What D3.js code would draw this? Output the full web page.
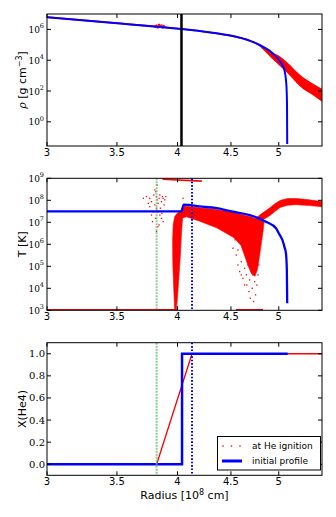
<!DOCTYPE html>
<html>
<head>
<meta charset="utf-8">
<script src="https://cdn.jsdelivr.net/npm/d3@7"></script>
<style>
  body { margin: 0; background: #fff; }
  svg { display: block; }
  text { font-family: "DejaVu Sans", sans-serif; fill: #000; }
</style>
</head>
<body>
<svg id="chart" width="336" height="517"></svg>
<script>
// ---- data (radius in 1e8 cm, log10 values for rho and T) ----

// tick labels
var radiusTicks = [3, 3.5, 4, 4.5, 5];
var rhoTickExp = [0, 2, 4, 6];
var tempTickExp = [3, 4, 5, 6, 7, 8, 9];
var xHeTicks = [0.0, 0.2, 0.4, 0.6, 0.8, 1.0];

// marker radii
var rCoreEdge = 4.035;   // black line, top panel
var rIgnition = 3.82;    // green line
var rShellBase = 4.13;   // blue dotted line

// initial profile (blue)
var rhoInit = [[3.0, 6.79], [3.5, 6.4], [4.035, 6.03], [4.2, 5.9], [4.36, 5.75], [4.52, 5.57],
  [4.69, 5.27], [4.86, 4.77], [4.92, 4.52], [4.97, 4.23], [5.01, 3.95], [5.04, 3.69],
  [5.065, 3.3], [5.08, 2.71], [5.088, 2.0], [5.092, 1.0], [5.094, -1.44]];
var tempInit = [[3.0, 7.5], [4.035, 7.5], [4.055, 7.8], [4.2, 7.72], [4.36, 7.64], [4.52, 7.48],
  [4.69, 7.33], [4.86, 7.03], [4.97, 6.73], [5.0, 6.5], [5.04, 6.2], [5.065, 5.85],
  [5.08, 5.59], [5.09, 4.8], [5.094, 3.32]];
var xHeInit = [[3.0, 0], [4.04, 0], [4.04, 1], [5.1, 1]];

// at He ignition (red): bands and clouds [r, low, high] / outlines [r, logT]
var rhoIgn = [[3.0, 6.74, 6.86], [3.5, 6.35, 6.46], [4.035, 5.97, 6.08], [4.36, 5.69, 5.8],
  [4.52, 5.51, 5.62], [4.69, 5.2, 5.31], [4.78, 4.95, 5.07], [4.86, 4.5, 4.8],
  [4.93, 4.08, 4.52], [5.0, 3.69, 4.3], [5.09, 3.2, 3.88], [5.24, 2.3, 3.05],
  [5.4, 1.7, 2.45], [5.5, 1.3, 2.15]];
var rhoIgnBlob = [[3.81, 6.18], [3.82, 6.25], [3.83, 6.12], [3.84, 6.3], [3.85, 6.16],
  [3.86, 6.26], [3.87, 6.12], [3.88, 6.22], [3.845, 6.22], [3.865, 6.19]];

var tempWedge = [[3.975, 3.03], [3.968, 3.8], [3.962, 4.6], [3.958, 5.3], [3.957, 6.2],
  [3.962, 6.9], [3.975, 7.25], [3.995, 7.4], [4.025, 7.5], [4.045, 7.7], [4.06, 7.74],
  [4.2, 7.66], [4.36, 7.58], [4.52, 7.44], [4.69, 7.26], [4.8, 7.1], [4.84, 7.0],
  [4.83, 6.6], [4.81, 6.0], [4.79, 5.4], [4.77, 4.85], [4.745, 4.55], [4.71, 4.65],
  [4.68, 4.95], [4.64, 5.45], [4.6, 5.95], [4.53, 6.3], [4.36, 6.75], [4.2, 7.05],
  [4.08, 7.25], [4.045, 7.2], [4.035, 6.5], [4.025, 5.5], [4.012, 4.5], [4.0, 3.6], [3.99, 3.03]];
var tempBranch = [[4.78, 7.1], [4.83, 7.12], [4.9, 7.3], [4.96, 7.5], [5.02, 7.68], [5.1, 7.78],
  [5.2, 7.8], [5.35, 7.76], [5.5, 7.71], [5.5, 7.94], [5.35, 8.02], [5.2, 8.08], [5.1, 8.08],
  [5.02, 8.0], [4.96, 7.85], [4.9, 7.65], [4.85, 7.5], [4.8, 7.35], [4.76, 7.2]];
var tempTopStreak = [[3.87, 8.96], [4.22, 8.87]];
var tempFloorA = [[3.0, 3.03], [4.0, 3.03]];
var tempFloorB = [[4.55, 3.03], [4.83, 3.03]];
var tempScatter = [[3.71, 8.09], [3.735, 8.17], [3.763, 8.09], [3.777, 7.94], [3.796, 8.24],
  [3.805, 8.47], [3.813, 8.39], [3.819, 8.17], [3.824, 8.02], [3.833, 7.86], [3.841, 8.09],
  [3.847, 8.24], [3.861, 7.94], [3.869, 8.17], [3.875, 8.09], [3.883, 7.79], [3.819, 7.64],
  [3.833, 7.48], [3.847, 7.33], [3.861, 7.18], [3.875, 7.03], [3.841, 6.88], [3.819, 6.58],
  [3.805, 7.79], [3.79, 7.48], [3.81, 7.18], [3.852, 7.64], [3.889, 8.02], [3.763, 7.71],
  [3.785, 7.03], [3.83, 6.8], [3.864, 7.41], [3.75, 7.86], [3.898, 8.17], [3.777, 7.33],
  [3.824, 8.7], [4.049, 8.09],
  [4.52, 5.82], [4.553, 5.51], [4.57, 5.06], [4.587, 4.76], [4.604, 5.21], [4.62, 4.45],
  [4.637, 4.91], [4.655, 4.61], [4.661, 4.15], [4.672, 5.06], [4.682, 3.85], [4.689, 4.38],
  [4.696, 3.55], [4.706, 4.76], [4.716, 4.0], [4.723, 4.61], [4.73, 3.4], [4.741, 4.3],
  [4.751, 3.7], [4.758, 4.91], [4.765, 4.15], [4.776, 4.61], [4.786, 5.06], [4.637, 4.15],
  [4.604, 4.61], [4.487, 6.65], [4.54, 6.2], [4.46, 6.95], [4.57, 5.74]];
var xHeIgn = [[3.0, 0], [3.82, 0], [4.13, 1], [5.5, 1]];

// ---- layout ----
var width = 336, height = 517;
var left = 47, right = 322;
var panels = [
  { top: 14, bottom: 146 },
  { top: 178.3, bottom: 310.3 },
  { top: 342.7, bottom: 475.3 }
];
var red = "#ff0000", blue = "#0000ff";
var pow10 = function (e) { return Math.pow(10, e); };

var svg = d3.select("#chart").attr("width", width).attr("height", height);

var x = d3.scaleLog().domain([3, 5.5]).range([left, right]);
var yRho = d3.scaleLog().domain([pow10(-1.57), 1e7]).range([panels[0].bottom, panels[0].top]);
var yT = d3.scaleLog().domain([1e3, 1e9]).range([panels[1].bottom, panels[1].top]);
var yX = d3.scaleLinear().domain([-0.1, 1.1]).range([panels[2].bottom, panels[2].top]);

// clip paths
panels.forEach(function (p, i) {
  svg.append("clipPath").attr("id", "clip" + i)
    .append("rect").attr("x", left).attr("y", p.top)
    .attr("width", right - left).attr("height", p.bottom - p.top);
});

function plotArea(i) {
  return svg.append("g").attr("clip-path", "url(#clip" + i + ")");
}

function vline(g, r, p, stroke, w, dash, op) {
  g.append("line").attr("x1", x(r)).attr("x2", x(r))
    .attr("y1", p.top).attr("y2", p.bottom)
    .attr("stroke", stroke).attr("stroke-width", w)
    .attr("stroke-dasharray", dash).attr("opacity", op);
}

function dots(g, data, xf, yf, s) {
  g.selectAll(null).data(data).enter().append("rect")
    .attr("x", function (d) { return xf(d) - s / 2; })
    .attr("y", function (d) { return yf(d) - s / 2; })
    .attr("width", s).attr("height", s)
    .attr("fill", red);
}

// ---- panel 1: density ----
var g1 = plotArea(0);
g1.append("path").datum(rhoIgn)
  .attr("d", d3.area()
    .x(function (d) { return x(d[0]); })
    .y0(function (d) { return yRho(pow10(d[1])); })
    .y1(function (d) { return yRho(pow10(d[2])); })
    .curve(d3.curveMonotoneX))
  .attr("fill", red);
dots(g1, rhoIgnBlob, function (d) { return x(d[0]); }, function (d) { return yRho(pow10(d[1])); }, 2);
g1.append("path").datum(rhoInit)
  .attr("d", d3.line()
    .x(function (d) { return x(d[0]); })
    .y(function (d) { return yRho(pow10(d[1])); })
    .curve(d3.curveMonotoneX))
  .attr("fill", "none").attr("stroke", blue).attr("stroke-width", 2);
vline(g1, rCoreEdge, panels[0], "#000", 2.5, null, 1);

// ---- panel 2: temperature ----
var g2 = plotArea(1);
var tLine = d3.line()
  .x(function (d) { return x(d[0]); })
  .y(function (d) { return yT(pow10(d[1])); });
[tempFloorA, tempFloorB].forEach(function (seg) {
  g2.append("path").datum(seg).attr("d", tLine)
    .attr("stroke", red).attr("stroke-width", 1.5).attr("fill", "none");
});
g2.append("path").datum(tempTopStreak).attr("d", tLine)
  .attr("stroke", red).attr("stroke-width", 1.6).attr("fill", "none");
[tempWedge, tempBranch].forEach(function (poly) {
  g2.append("path").datum(poly).attr("d", tLine.curve(d3.curveLinearClosed))
    .attr("fill", red).attr("stroke", red).attr("stroke-width", 0.6);
});
tLine.curve(d3.curveLinear);
dots(g2, tempScatter, function (d) { return x(d[0]); }, function (d) { return yT(pow10(d[1])); }, 1.3);
vline(g2, rIgnition, panels[1], "#6cbf6c", 2, "2,1", 0.75);
g2.append("path").datum(tempInit)
  .attr("d", d3.line()
    .x(function (d) { return x(d[0]); })
    .y(function (d) { return yT(pow10(d[1])); })
    .curve(d3.curveMonotoneX))
  .attr("fill", "none").attr("stroke", blue).attr("stroke-width", 2.3);
vline(g2, rShellBase, panels[1], blue, 2, "1.6,1.8", 1);

// ---- panel 3: helium mass fraction ----
var g3 = plotArea(2);
var xLine = d3.line()
  .x(function (d) { return x(d[0]); })
  .y(function (d) { return yX(d[1]); });
g3.append("path").datum(xHeIgn).attr("d", xLine)
  .attr("fill", "none").attr("stroke", red).attr("stroke-width", 1.3);
g3.append("path").datum(xHeInit).attr("d", xLine)
  .attr("fill", "none").attr("stroke", blue).attr("stroke-width", 2.5);
vline(g3, rIgnition, panels[2], "#6cbf6c", 2, "2,1", 0.8);
vline(g3, rShellBase, panels[2], blue, 2, "1.6,1.8", 1);

// ---- frames, ticks and tick labels ----
function frame(p, yScale, yVals, labelFn) {
  var g = svg.append("g");
  g.append("rect").attr("x", left).attr("y", p.top)
    .attr("width", right - left).attr("height", p.bottom - p.top)
    .attr("fill", "none").attr("stroke", "#000").attr("stroke-width", 1);
  radiusTicks.forEach(function (t) {
    var px = x(t);
    g.append("line").attr("x1", px).attr("x2", px).attr("y1", p.bottom).attr("y2", p.bottom - 4).attr("stroke", "#000");
    g.append("line").attr("x1", px).attr("x2", px).attr("y1", p.top).attr("y2", p.top + 4).attr("stroke", "#000");
    g.append("text").attr("x", px).attr("y", p.bottom + 10)
      .attr("text-anchor", "middle").style("font-size", "10px").text(String(t));
  });
  yVals.forEach(function (v) {
    var py = yScale(v);
    g.append("line").attr("x1", left).attr("x2", left + 4).attr("y1", py).attr("y2", py).attr("stroke", "#000");
    g.append("line").attr("x1", right).attr("x2", right - 4).attr("y1", py).attr("y2", py).attr("stroke", "#000");
    labelFn(g, v, py);
  });
  return g;
}

function logLabel(g, v, py) {
  var t = g.append("text").attr("x", 44).attr("y", py + 3.5)
    .attr("text-anchor", "end").style("font-family", "DejaVu Serif").style("font-size", "9px");
  t.append("tspan").text("10");
  t.append("tspan").attr("dy", -4.5).style("font-size", "6.5px").text(Math.round(Math.log10(v)));
}

frame(panels[0], yRho, rhoTickExp.map(pow10), logLabel);
frame(panels[1], yT, tempTickExp.map(pow10), logLabel);
frame(panels[2], yX, xHeTicks, function (g, v, py) {
  g.append("text").attr("x", 45).attr("y", py + 3.5)
    .attr("text-anchor", "end").style("font-family", "DejaVu Serif").style("font-size", "10px")
    .text(d3.format(".1f")(v));
});

// ---- axis titles ----
function yTitle(p) {
  return svg.append("text")
    .attr("transform", "translate(26," + ((p.top + p.bottom) / 2) + ") rotate(-90)")
    .attr("text-anchor", "middle").style("font-size", "11px");
}
var ty1 = yTitle(panels[0]);
ty1.append("tspan").style("font-family", "DejaVu Serif").style("font-style", "italic").text("ρ");
ty1.append("tspan").text(" [g cm");
ty1.append("tspan").attr("dy", -4).style("font-size", "8px").text("−3");
ty1.append("tspan").attr("dy", 4).text("]");
yTitle(panels[1]).text("T [K]");
yTitle(panels[2]).text("X(He4)");

var tx = svg.append("text").attr("x", (left + right) / 2).attr("y", 499)
  .attr("text-anchor", "middle").style("font-size", "11px");
tx.append("tspan").text("Radius [10");
tx.append("tspan").attr("dy", -4.5).style("font-size", "8px").text("8");
tx.append("tspan").attr("dy", 4.5).text(" cm]");

// ---- legend ----
var lg = svg.append("g");
lg.append("rect").attr("x", 217.5).attr("y", 436.5).attr("width", 103).attr("height", 33.5)
  .attr("fill", "#fff").attr("stroke", "#000").attr("stroke-width", 1);
dots(lg, [223, 231.5, 240], function (d) { return d; }, function () { return 446; }, 1.4);
lg.append("line").attr("x1", 222).attr("x2", 242).attr("y1", 461).attr("y2", 461)
  .attr("stroke", blue).attr("stroke-width", 3);
lg.append("text").attr("x", 252).attr("y", 449).style("font-size", "9px").text("at He ignition");
lg.append("text").attr("x", 252).attr("y", 464).style("font-size", "9px").text("initial profile");
</script>
</body>
</html>
